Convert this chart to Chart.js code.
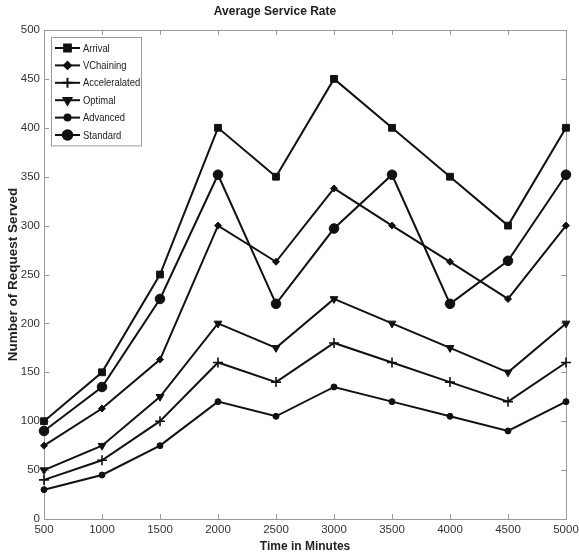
<!DOCTYPE html>
<html>
<head>
<meta charset="utf-8">
<script src="https://cdn.jsdelivr.net/npm/chart.js@4.4.0/dist/chart.umd.min.js"></script>
<style>
  html, body { margin: 0; padding: 0; background: #fff; }
  #wrap { width: 579px; height: 556px; }
</style>
</head>
<body>
<div id="wrap"><canvas id="grafico"></canvas></div>
<script>
// Tiempos (minutos) y series
const tiempos = [500, 1000, 1500, 2000, 2500, 3000, 3500, 4000, 4500, 5000];
const arrival      = [100, 150, 250, 400, 350, 450, 400, 350, 300, 400];
const vchaining    = [75, 113, 163, 300, 263, 338, 300, 263, 225, 300];
const acceleralated = [40, 60, 100, 160, 140, 180, 160, 140, 120, 160];
const optimal      = [50, 75, 125, 200, 175, 225, 200, 175, 150, 200];
const advanced     = [30, 45, 75, 120, 105, 135, 120, 105, 90, 120];
const standard     = [90, 135, 225, 352, 220, 297, 352, 220, 264, 352];
const ticksX = [500, 1000, 1500, 2000, 2500, 3000, 3500, 4000, 4500, 5000];
const ticksY = [0, 50, 100, 150, 200, 250, 300, 350, 400, 450, 500];

const FUENTE = "'Liberation Sans', Arial, sans-serif";
const ESTRECHA = "'Liberation Sans Narrow', 'Arial Narrow', 'Liberation Sans', sans-serif";

function serie(label, valores, estilo, radio, rotacion) {
    return {
        label: label,
        data: tiempos.map((t, i) => ({ x: t, y: valores[i] })),
        borderColor: '#111',
        backgroundColor: '#111',
        borderWidth: 2,
        pointStyle: estilo,
        pointRadius: radio,
        pointRotation: rotacion || 0,
        pointBorderWidth: estilo === 'cross' ? 1.6 : 1,
        pointBackgroundColor: '#111',
        pointBorderColor: '#111',
        tension: 0,
        clip: false
    };
}

const datasets = [
    serie('Arrival', arrival, 'rect', 4.8),
    serie('VChaining', vchaining, 'rectRot', 3.5),
    serie('Acceleralated', acceleralated, 'cross', 5),
    serie('Optimal', optimal, 'triangle', 4.5, 180),
    serie('Advanced', advanced, 'circle', 3),
    serie('Standard', standard, 'circle', 4.8)
];

// Titulo centrado a mano
const titulo = {
    id: 'titulo',
    afterDraw(chart) {
        const ctx = chart.ctx;
        ctx.save();
        ctx.fillStyle = '#222';
        ctx.font = 'bold 12px ' + FUENTE;
        ctx.textAlign = 'center';
        ctx.textBaseline = 'middle';
        ctx.fillText('Average Service Rate', 275, 12);
        ctx.restore();
    }
};

// Marco de ejes con marcas hacia dentro (estilo matlab)
const marco = {
    id: 'marco',
    beforeDatasetsDraw(chart) {
        const { ctx, chartArea: a, scales } = chart;
        ctx.save();
        ctx.strokeStyle = '#9a9a9a';
        ctx.lineWidth = 1;
        ctx.strokeRect(a.left + 0.5, a.top + 0.5, a.right - a.left, a.bottom - a.top);
        ctx.beginPath();
        const L = 5;
        ticksX.forEach(v => {
            const x = Math.round(scales.x.getPixelForValue(v)) + 0.5;
            ctx.moveTo(x, a.bottom); ctx.lineTo(x, a.bottom - L);
            ctx.moveTo(x, a.top); ctx.lineTo(x, a.top + L);
        });
        ticksY.forEach(v => {
            const y = Math.round(scales.y.getPixelForValue(v)) + 0.5;
            ctx.moveTo(a.left, y); ctx.lineTo(a.left + L, y);
            ctx.moveTo(a.right, y); ctx.lineTo(a.right - L, y);
        });
        ctx.stroke();
        ctx.restore();
    }
};

// Leyenda dentro del area de trazado, arriba a la izquierda
const leyenda = {
    id: 'leyenda',
    afterDraw(chart) {
        const { ctx, chartArea: a } = chart;
        const x0 = a.left + 7, y0 = a.top + 7;
        const ancho = 90, paso = 17.4;
        const alto = paso * chart.data.datasets.length + 4;
        ctx.save();
        ctx.fillStyle = '#fff';
        ctx.fillRect(x0, y0, ancho, alto);
        ctx.strokeStyle = '#9a9a9a';
        ctx.lineWidth = 1;
        ctx.strokeRect(x0 + 0.5, y0 + 0.5, ancho, alto);
        chart.data.datasets.forEach((ds, i) => {
            const y = y0 + 11 + i * paso;
            ctx.strokeStyle = '#111';
            ctx.lineWidth = 2;
            ctx.beginPath();
            ctx.moveTo(x0 + 4, y);
            ctx.lineTo(x0 + 29, y);
            ctx.stroke();
            ctx.fillStyle = '#111';
            Chart.helpers.drawPoint(ctx, {
                pointStyle: ds.pointStyle,
                radius: ds.pointRadius,
                rotation: ds.pointRotation,
                borderWidth: ds.pointBorderWidth
            }, x0 + 16.5, y);
            // texto algo comprimido en horizontal
            ctx.save();
            ctx.translate(x0 + 32, y + 0.5);
            ctx.scale(0.82, 1);
            ctx.font = '11.5px ' + FUENTE;
            ctx.textBaseline = 'middle';
            ctx.fillStyle = '#222';
            ctx.fillText(ds.label, 0, 0);
            ctx.restore();
        });
        ctx.restore();
    }
};

new Chart(document.getElementById('grafico'), {
    type: 'line',
    data: { datasets: datasets },
    plugins: [marco, leyenda, titulo],
    options: {
        responsive: true,
        maintainAspectRatio: false,
        animation: false,
        layout: { padding: { left: 0, right: 13, top: 30, bottom: 0 } },
        plugins: {
            legend: { display: false },
            tooltip: { enabled: false },
            title: { display: false }
        },
        scales: {
            x: {
                type: 'linear',
                min: 500,
                max: 5000,
                afterFit(scale) {
                    scale.height = 37;
                    scale.paddingLeft = 0;
                    scale.paddingRight = 0;
                },
                afterBuildTicks(scale) { scale.ticks = ticksX.map(v => ({ value: v })); },
                grid: { display: false, drawTicks: false, tickLength: 0 },
                border: { display: false },
                ticks: {
                    color: '#333', padding: 4, maxRotation: 0,
                    font: { family: ESTRECHA, size: 11.5 },
                    callback: v => String(v)
                },
                title: {
                    display: true,
                    text: 'Time in Minutes',
                    color: '#222',
                    padding: { top: 0, bottom: 2 },
                    font: { family: FUENTE, size: 12, weight: 'bold' }
                }
            },
            y: {
                min: 0,
                max: 500,
                afterFit(scale) {
                    scale.width = 44;
                    scale.paddingTop = 0;
                    scale.paddingBottom = 0;
                },
                afterBuildTicks(scale) { scale.ticks = ticksY.map(v => ({ value: v })); },
                grid: { display: false, drawTicks: false, tickLength: 0 },
                border: { display: false },
                ticks: { color: '#333', padding: 4, font: { family: ESTRECHA, size: 11.5 } },
                title: {
                    display: true,
                    text: 'Number of Request Served',
                    color: '#222',
                    padding: { top: 5, bottom: 0 },
                    font: { family: FUENTE, size: 13.5, weight: 'bold' }
                }
            }
        }
    }
});
</script>
</body>
</html>
